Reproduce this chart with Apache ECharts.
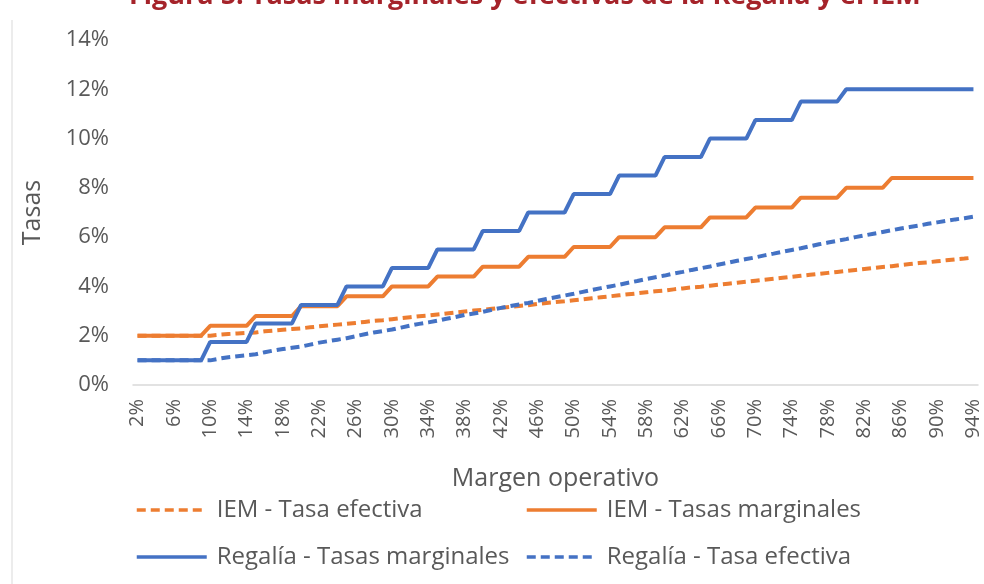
<!DOCTYPE html>
<html>
<head>
<meta charset="utf-8">
<script src="https://cdn.jsdelivr.net/npm/echarts@6/dist/echarts.min.js"></script>
<style>
  html, body { margin: 0; padding: 0; background: #fff; }
  #chart { width: 984px; height: 584px; }
</style>
</head>
<body>
<div id="chart"></div>
<script>
// margen operativo (%)
var margenes = [2, 3, 4, 5, 6, 7, 8, 9, 10, 11, 12, 13, 14, 15, 16, 17, 18, 19, 20,
  21, 22, 23, 24, 25, 26, 27, 28, 29, 30, 31, 32, 33, 34, 35, 36, 37, 38, 39, 40,
  41, 42, 43, 44, 45, 46, 47, 48, 49, 50, 51, 52, 53, 54, 55, 56, 57, 58, 59, 60,
  61, 62, 63, 64, 65, 66, 67, 68, 69, 70, 71, 72, 73, 74, 75, 76, 77, 78, 79, 80,
  81, 82, 83, 84, 85, 86, 87, 88, 89, 90, 91, 92, 93, 94];

// IEM - tasa efectiva (%)
var iemEfectiva = [2, 2, 2, 2, 2, 2, 2, 2, 2,
  2.04, 2.07, 2.09, 2.11, 2.13, 2.18, 2.21, 2.24, 2.27, 2.30,
  2.34, 2.38, 2.42, 2.45, 2.48, 2.52, 2.56, 2.60, 2.63, 2.67,
  2.71, 2.75, 2.79, 2.82, 2.86, 2.90, 2.94, 2.98, 3.02, 3.05,
  3.09, 3.13, 3.17, 3.21, 3.24, 3.29, 3.33, 3.37, 3.40, 3.44,
  3.48, 3.52, 3.56, 3.60, 3.64, 3.68, 3.72, 3.76, 3.80, 3.83,
  3.88, 3.92, 3.96, 3.99, 4.03, 4.07, 4.11, 4.15, 4.19, 4.23,
  4.27, 4.31, 4.35, 4.39, 4.43, 4.47, 4.51, 4.55, 4.59, 4.63,
  4.67, 4.71, 4.75, 4.79, 4.82, 4.87, 4.91, 4.95, 4.98, 5.02,
  5.06, 5.10, 5.13, 5.17];

// IEM - tasas marginales (%)
var iemMarginal = [2, 2, 2, 2, 2, 2, 2, 2,
  2.4, 2.4, 2.4, 2.4, 2.4, 2.8, 2.8, 2.8, 2.8, 2.8,
  3.2, 3.2, 3.2, 3.2, 3.2, 3.6, 3.6, 3.6, 3.6, 3.6,
  4.0, 4.0, 4.0, 4.0, 4.0, 4.4, 4.4, 4.4, 4.4, 4.4,
  4.8, 4.8, 4.8, 4.8, 4.8, 5.2, 5.2, 5.2, 5.2, 5.2,
  5.6, 5.6, 5.6, 5.6, 5.6, 6.0, 6.0, 6.0, 6.0, 6.0,
  6.4, 6.4, 6.4, 6.4, 6.4, 6.8, 6.8, 6.8, 6.8, 6.8,
  7.2, 7.2, 7.2, 7.2, 7.2, 7.6, 7.6, 7.6, 7.6, 7.6,
  8.0, 8.0, 8.0, 8.0, 8.0,
  8.4, 8.4, 8.4, 8.4, 8.4, 8.4, 8.4, 8.4, 8.4, 8.4];

// Regalía - tasas marginales (%)
var regMarginal = [1, 1, 1, 1, 1, 1, 1, 1,
  1.75, 1.75, 1.75, 1.75, 1.75, 2.5, 2.5, 2.5, 2.5, 2.5,
  3.25, 3.25, 3.25, 3.25, 3.25, 4, 4, 4, 4, 4,
  4.75, 4.75, 4.75, 4.75, 4.75, 5.5, 5.5, 5.5, 5.5, 5.5,
  6.25, 6.25, 6.25, 6.25, 6.25, 7, 7, 7, 7, 7,
  7.75, 7.75, 7.75, 7.75, 7.75, 8.5, 8.5, 8.5, 8.5, 8.5,
  9.25, 9.25, 9.25, 9.25, 9.25, 10, 10, 10, 10, 10,
  10.75, 10.75, 10.75, 10.75, 10.75, 11.5, 11.5, 11.5, 11.5, 11.5,
  12, 12, 12, 12, 12, 12, 12, 12, 12, 12, 12, 12, 12, 12, 12];

// Regalía - tasa efectiva (%)
var regEfectiva = [1, 1, 1, 1, 1, 1, 1, 1, 1,
  1.07, 1.13, 1.17, 1.21, 1.25, 1.33, 1.40, 1.46, 1.51, 1.56,
  1.64, 1.72, 1.78, 1.84, 1.90, 1.98, 2.06, 2.13, 2.19, 2.25,
  2.33, 2.41, 2.48, 2.54, 2.61, 2.69, 2.76, 2.84, 2.90, 2.97,
  3.05, 3.13, 3.20, 3.27, 3.33, 3.41, 3.49, 3.56, 3.63, 3.70,
  3.78, 3.86, 3.93, 4.00, 4.07, 4.15, 4.22, 4.30, 4.37, 4.44,
  4.52, 4.59, 4.67, 4.74, 4.81, 4.89, 4.96, 5.04, 5.11, 5.18,
  5.26, 5.33, 5.41, 5.48, 5.55, 5.63, 5.71, 5.78, 5.85, 5.92,
  6.00, 6.07, 6.14, 6.21, 6.28, 6.35, 6.41, 6.47, 6.54, 6.60,
  6.66, 6.72, 6.77, 6.83];

var etiquetasY = [0, 2, 4, 6, 8, 10, 12, 14];

var naranja = '#ED7D31';
var azul = '#4472C4';
var gris = '#595959';
var fuente = "'Open Sans', 'Noto Sans', sans-serif";

var chart = echarts.init(document.getElementById('chart'));

function legendaItem(nombre, left, top) {
    return {
        data: [nombre],
        left: left,
        top: top,
        itemWidth: 70,
        itemHeight: 14,
        selectedMode: false,
        itemStyle: { opacity: 0 },
        lineStyle: { width: 3.5 },
        textStyle: { color: gris, fontSize: 24, fontFamily: fuente, padding: [0, 0, 0, 5] }
    };
}

var option = {
    animation: false,
    title: {
        text: 'Figura 5: Tasas marginales y efectivas de la Regalía y el IEM',
        left: 124,
        top: -22,
        textStyle: { color: '#A5232A', fontSize: 27, fontWeight: 'bold', fontFamily: fuente }
    },
    graphic: [{
        type: 'line',
        shape: { x1: 12, y1: 20, x2: 12, y2: 584 },
        style: { stroke: '#d9d9d9', lineWidth: 1 }
    }],
    legend: [
        legendaItem('IEM - Tasa efectiva', 130, 493),
        legendaItem('IEM - Tasas marginales', 520, 493),
        legendaItem('Regalía - Tasas marginales', 130, 540),
        legendaItem('Regalía - Tasa efectiva', 520, 540)
    ],
    grid: { left: 133, right: 6, top: 40, bottom: 199 },
    xAxis: {
        type: 'category',
        data: margenes.map(function (m) { return m + '%'; }),
        boundaryGap: true,
        name: 'Margen operativo',
        nameLocation: 'middle',
        nameGap: 81,
        nameTextStyle: { color: gris, fontSize: 25, fontFamily: fuente },
        axisLine: { lineStyle: { color: '#d9d9d9', width: 1.5 } },
        axisTick: { show: false },
        axisLabel: {
            interval: 3,
            rotate: 90,
            margin: 14,
            color: gris,
            fontSize: 20,
            fontFamily: fuente
        },
        splitLine: { show: false }
    },
    yAxis: {
        type: 'value',
        min: etiquetasY[0],
        max: etiquetasY[etiquetasY.length - 1],
        interval: 2,
        name: 'Tasas',
        nameLocation: 'middle',
        nameGap: 88,
        nameTextStyle: { color: gris, fontSize: 25, fontFamily: fuente },
        axisLine: { show: false },
        axisTick: { show: false },
        splitLine: { show: false },
        axisLabel: {
            formatter: '{value}%',
            margin: 24,
            color: gris,
            fontSize: 22,
            fontFamily: fuente
        }
    },
    series: [
        {
            name: 'IEM - Tasa efectiva',
            type: 'line',
            symbol: 'none',
            data: iemEfectiva,
            itemStyle: { color: naranja },
            lineStyle: { color: naranja, width: 4, type: [9, 5] }
        },
        {
            name: 'IEM - Tasas marginales',
            type: 'line',
            symbol: 'none',
            data: iemMarginal,
            itemStyle: { color: naranja },
            lineStyle: { color: naranja, width: 4 }
        },
        {
            name: 'Regalía - Tasas marginales',
            type: 'line',
            symbol: 'none',
            data: regMarginal,
            itemStyle: { color: azul },
            lineStyle: { color: azul, width: 4 }
        },
        {
            name: 'Regalía - Tasa efectiva',
            type: 'line',
            symbol: 'none',
            data: regEfectiva,
            itemStyle: { color: azul },
            lineStyle: { color: azul, width: 4, type: [9, 5] }
        }
    ]
};

chart.setOption(option);
window.addEventListener('resize', function () {
    chart.resize();
});
</script>
</body>
</html>
